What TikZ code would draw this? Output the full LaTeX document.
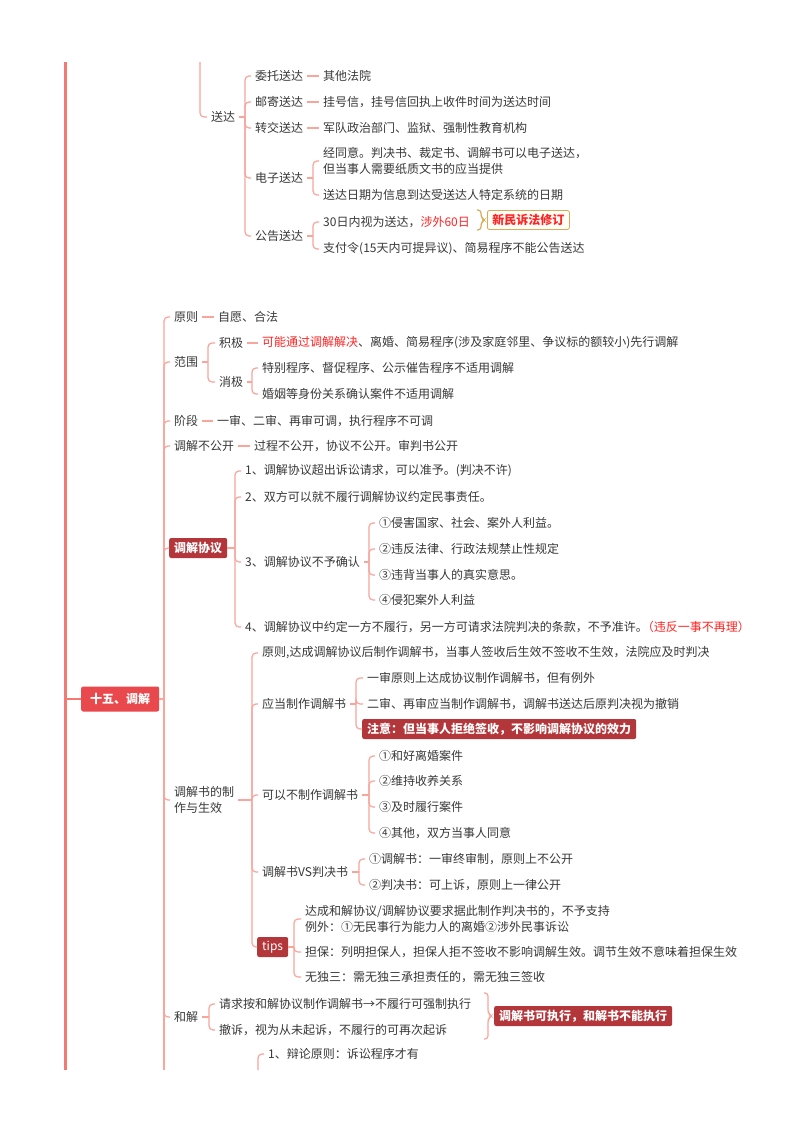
\documentclass[tikz,border=0pt]{standalone}
\usepackage{fontspec}
\setmainfont{Noto Sans CJK SC}
\usetikzlibrary{calc}
\definecolor{tc}{HTML}{383838}
\definecolor{lc}{HTML}{F8A59C}
\definecolor{mc}{HTML}{F27A70}
\definecolor{rootc}{HTML}{E9494D}
\definecolor{dk}{HTML}{B3363A}
\definecolor{rd}{HTML}{FF2424}
\definecolor{gold}{HTML}{D6AC5A}
\definecolor{cream}{HTML}{FFFDF6}
\newcommand\brk[3]{%
  \coordinate (X#1) at (#2,0);
  \coordinate (B#1) at (#1.east -| X#1);
  \draw[ln] (#1.east) -- (B#1);
  \foreach \c in {#3} {\draw[br] (B#1) |- (\c.west);}
}
\newcommand\sbrace[3]{%
  \draw[#2, line width=1.2pt, rounded corners=3pt]
    ($(#1.west)+(-10,-#3)$) -- ($(#1.west)+(-6,-#3)$) -- ($(#1.west)+(-6,-3)$)
    -- ($(#1.west)+(-2.5,0)$) -- ($(#1.west)+(-6,3)$) -- ($(#1.west)+(-6,#3)$)
    -- ($(#1.west)+(-10,#3)$);
}
\begin{document}
\begin{tikzpicture}[x=1pt,y=-1pt,
  txt/.style={font=\fontsize{12}{16}\selectfont, text=tc, inner xsep=4pt, inner ysep=2pt, anchor=west, xshift=-4pt, align=left},
  dbox/.style={font=\fontsize{12}{16}\selectfont\bfseries, text=white, fill=dk, rounded corners=2pt, inner xsep=5pt, inner ysep=1pt, minimum height=20pt, anchor=west},
  tipbox/.style={font=\fontsize{12}{16}\selectfont, text=white, fill=dk, rounded corners=2pt, inner xsep=5pt, inner ysep=1pt, minimum height=20pt, anchor=west},
  rootbox/.style={font=\fontsize{12}{16}\selectfont\bfseries, text=white, fill=rootc, rounded corners=2pt, inner xsep=9pt, minimum height=25pt, anchor=west},
  tagbox/.style={font=\fontsize{12}{16}\selectfont\bfseries, text=rd, fill=cream, draw=gold, line width=0.8pt, rounded corners=2pt, inner xsep=5pt, inner ysep=1pt, minimum height=19pt, anchor=west},
  ln/.style={draw=lc, line width=1.2pt},
  br/.style={draw=lc, line width=1.2pt, rounded corners=4pt},
]
\useasboundingbox (0,0) rectangle (800,1132);
\fill[white] (0,0) rectangle (800,1132);

% main line
\coordinate (mtop) at (65,62);
\coordinate (mbot) at (65,1070);
\draw[draw=mc, line width=3pt] (mtop) -- (mbot);

% ===== top section (送达) =====
\coordinate (ptop) at (200,62);
\node[txt] (sd) at (211,117) {送达};
\draw[br] (ptop) |- (sd.west);
\node[txt] (wt) at (255,76) {委托送达};
\node[txt] (wt1) at (323,76) {其他法院};
\node[txt] (yj) at (255,102) {邮寄送达};
\node[txt] (yj1) at (323,102) {挂号信，挂号信回执上收件时间为送达时间};
\node[txt] (zj) at (255,128) {转交送达};
\node[txt] (zj1) at (323,128) {军队政治部门、监狱、强制性教育机构};
\node[txt] (dz) at (255,178) {电子送达};
\node[txt] (dz1) at (323,161) {经同意。判决书、裁定书、调解书可以电子送达，\\但当事人需要纸质文书的应当提供};
\node[txt] (dz2) at (323,195) {送达日期为信息到达受送达人特定系统的日期};
\node[txt] (gg) at (255,236) {公告送达};
\node[txt] (gg1) at (323,222) {30日内视为送达，\textcolor{rd}{涉外60日}};
\node[txt] (gg2) at (323,249) {支付令(15天内可提异议)、简易程序不能公告送达};
\node[tagbox] (xm) at (487,220) {新民诉法修订};

\brk{sd}{245}{wt,yj,zj,dz,gg}
\draw[ln] (wt.east) -- (wt1.west);
\draw[ln] (yj.east) -- (yj1.west);
\draw[ln] (zj.east) -- (zj1.west);
\brk{dz}{313}{dz1,dz2}
\brk{gg}{313}{gg1,gg2}
\sbrace{xm}{gold}{10}

% ===== section 15 =====
\node[rootbox] (root) at (81,699) {十五、调解};
\draw[draw=mc, line width=2pt] (mtop |- root.west) -- (root.west);

\node[txt] (yz) at (174,317) {原则};
\node[txt] (yz1) at (218,317) {自愿、合法};
\draw[ln] (yz.east) -- (yz1.west);

\node[txt] (fw) at (174,362) {范围};
\node[txt] (jj) at (219,343) {积极};
\node[txt] (jj1) at (262,343) {\textcolor{rd}{可能通过调解解决}、离婚、简易程序(涉及家庭邻里、争议标的额较小)先行调解};
\node[txt] (xj) at (219,382) {消极};
\node[txt] (xj1) at (262,368) {特别程序、督促程序、公示催告程序不适用调解};
\node[txt] (xj2) at (262,394) {婚姻等身份关系确认案件不适用调解};
\brk{fw}{208}{jj,xj}
\draw[ln] (jj.east) -- (jj1.west);
\brk{xj}{252}{xj1,xj2}

\node[txt] (jd) at (174,421) {阶段};
\node[txt] (jd1) at (217,421) {一审、二审、再审可调，执行程序不可调};
\draw[ln] (jd.east) -- (jd1.west);

\node[txt] (gk) at (174,446) {调解不公开};
\node[txt] (gk1) at (254,446) {过程不公开，协议不公开。审判书公开};
\draw[ln] (gk.east) -- (gk1.west);

\node[dbox] (xy) at (169,548) {调解协议};
\node[txt] (x1) at (245,471) {1、调解协议超出诉讼请求，可以准予。(判决不许)};
\node[txt] (x2) at (245,497) {2、双方可以就不履行调解协议约定民事责任。};
\node[txt] (x3) at (245,562) {3、调解协议不予确认};
\node[txt] (x4) at (245,627) {4、调解协议中约定一方不履行，另一方可请求法院判决的条款，不予准许。\kern-6pt\textcolor{rd}{（违反一事不再理）}};
\node[txt] (c1) at (379,523) {①侵害国家、社会、案外人利益。};
\node[txt] (c2) at (379,549) {②违反法律、行政法规禁止性规定};
\node[txt] (c3) at (379,575) {③违背当事人的真实意思。};
\node[txt] (c4) at (379,600) {④侵犯案外人利益};
\brk{xy}{235}{x1,x2,x3,x4}
\brk{x3}{369}{c1,c2,c3,c4}

\node[txt] (zz) at (174,800) {调解书的制\\作与生效};
\node[txt] (zz1) at (262,653) {原则,达成调解协议后制作调解书，当事人签收后生效不签收不生效，法院应及时判决};
\node[txt] (zz2) at (262,704) {应当制作调解书};
\node[txt] (d1) at (367,678) {一审原则上达成协议制作调解书，但有例外};
\node[txt] (d2) at (367,704) {二审、再审应当制作调解书，调解书送达后原判决视为撤销};
\node[dbox] (d3) at (362,729) {注意：但当事人拒绝签收，不影响调解协议的效力\hspace{15pt}};
\node[txt] (zz3) at (262,795) {可以不制作调解书};
\node[txt] (e1) at (379,756) {①和好离婚案件};
\node[txt] (e2) at (379,781) {②维持收养关系};
\node[txt] (e3) at (379,807) {③及时履行案件};
\node[txt] (e4) at (379,833) {④其他，双方当事人同意};
\node[txt] (zz4) at (262,872) {调解书VS判决书};
\node[txt] (f1) at (369,859) {①调解书：一审终审制，原则上不公开};
\node[txt] (f2) at (369,885) {②判决书：可上诉，原则上一律公开};
\node[tipbox] (tp) at (257,947) {tips};
\node[txt] (g1) at (305,919) {达成和解协议/调解协议要求据此制作判决书的，不予支持\\例外：①无民事行为能力人的离婚②涉外民事诉讼};
\node[txt] (g2) at (305,952) {担保：列明担保人，担保人拒不签收不影响调解生效。调节生效不意味着担保生效};
\node[txt] (g3) at (305,977) {无独三：需无独三承担责任的，需无独三签收};
\brk{zz}{252}{zz1,zz2,zz3,zz4,tp}
\brk{zz2}{356}{d1,d2,d3}
\brk{zz3}{369}{e1,e2,e3,e4}
\brk{zz4}{359}{f1,f2}
\brk{tp}{294}{g1,g2,g3}

\node[txt] (hj) at (174,1017) {和解};
\node[txt] (h1) at (219,1004) {请求按和解协议制作调解书→不履行可强制执行};
\node[txt] (h2) at (219,1030) {撤诉，视为从未起诉，不履行的可再次起诉};
\node[dbox] (hx) at (494,1016) {调解书可执行，和解书不能执行};
\brk{hj}{209}{h1,h2}
\sbrace{hx}{lc}{23}

\node[txt] (l1) at (268,1054) {1、辩论原则：诉讼程序才有};
\coordinate (lbot) at (258,1070);
\draw[br] (lbot) |- (l1.west);

% root bracket
\brk{root}{164}{yz,fw,jd,gk,xy,zz,hj}
\coordinate (rbot) at (164,1070);
\draw[ln] (Broot) -- (rbot);
\end{tikzpicture}
\end{document}
